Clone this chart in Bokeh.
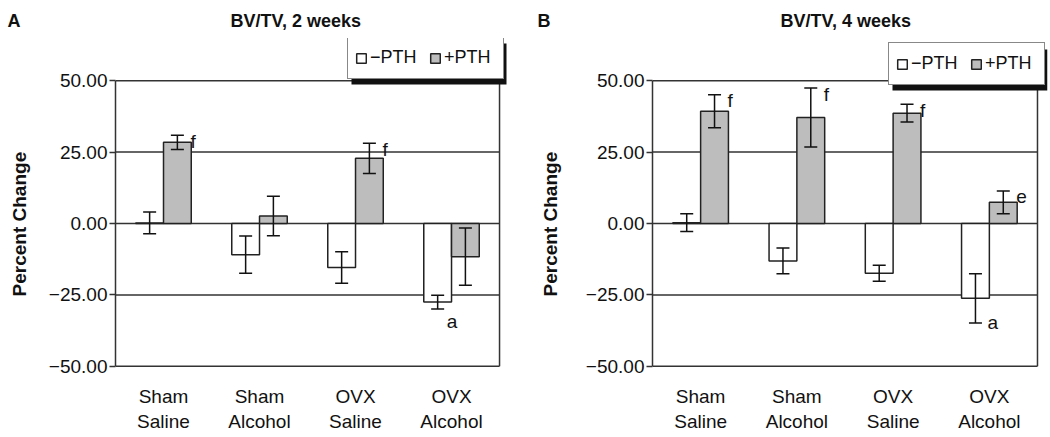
from bokeh.plotting import figure
from bokeh.models import (ColumnDataSource, Whisker, TeeHead, FixedTicker, Legend,
                          LegendItem, Range1d, BoxAnnotation)
from bokeh.layouts import row
from bokeh.embed import file_html
from bokeh.resources import INLINE
from bokeh.core.properties import value

# ---------------- data ----------------
categories = ["Sham\nSaline", "Sham\nAlcohol", "OVX\nSaline", "OVX\nAlcohol"]
series_names = ["\u2212PTH", "+PTH"]
y_ticks = [-50, -25, 0, 25, 50]
y_tick_labels = ["\u221250.00", "\u221225.00", "0.00", "25.00", "50.00"]

titles = ["BV/TV, 2 weeks", "BV/TV, 4 weeks"]
panel_letters = ["A", "B"]
y_label = "Percent Change"

a_minus = [0.2, -10.9, -15.4, -27.5]
a_minus_err = [3.8, 6.5, 5.5, 2.4]
a_plus = [28.4, 2.6, 22.8, -11.6]
a_plus_err = [2.5, 6.9, 5.3, 10.0]

b_minus = [0.3, -13.1, -17.4, -26.2]
b_minus_err = [3.1, 4.5, 2.8, 8.6]
b_plus = [39.3, 37.1, 38.6, 7.4]
b_plus_err = [5.8, 10.3, 3.1, 4.0]

# significance letters: (category index, series index, letter)
a_notes = [(0, 1, "f"), (2, 1, "f"), (3, 0, "a")]
b_notes = [(0, 1, "f"), (1, 1, "f"), (2, 1, "f"), (3, 1, "e"), (3, 0, "a")]

FONT = "Liberation Sans"
DARK = "#222222"
LINE = "#333333"
GRAY = "#bdbdbd"
NBSP = "\u00a0"


def make_panel(title, letter, minus, minus_err, plus, plus_err, notes,
               frame_w, x_end, bl, br, ylabel_standoff, title_offset, title_gap,
               leg_x, leg_y, a_dx, a_dy):
    n = len(categories)
    centers = [i + 0.5 for i in range(n)]
    bw = 0.289
    xm = [c - bw / 2 for c in centers]
    xp = [c + bw / 2 for c in centers]
    y_lo, y_hi = y_ticks[0], y_ticks[-1]

    # the frame reaches above/right of the value box to hold the legend box
    p = figure(x_range=Range1d(0, x_end), y_range=Range1d(-50.4, 64.75),
               frame_width=frame_w, frame_height=329,
               min_border_left=bl, min_border_right=br,
               min_border_top=38, min_border_bottom=70,
               output_backend="svg", toolbar_location=None,
               background_fill_color="white", border_fill_color="white",
               outline_line_color=None)

    # title row: panel letter + chart title
    p.title.text = letter + NBSP * title_gap + title
    p.title.text_font = FONT
    p.title.text_font_style = "bold"
    p.title.text_font_size = "18px"
    p.title.text_color = "#111111"
    p.title.align = "left"
    p.title.offset = title_offset
    p.title.standoff = 14
    p.title.vertical_align = "middle"

    p.xgrid.visible = False
    p.ygrid.visible = False
    # horizontal rules at every tick (incl. top/bottom of the box) and right edge
    p.segment(x0=[0] * len(y_ticks), x1=[n] * len(y_ticks), y0=y_ticks, y1=y_ticks,
              line_color=LINE, line_width=1.5)
    p.segment(x0=[n], x1=[n], y0=[y_lo], y1=[y_hi], line_color=LINE, line_width=1.5)

    src_m = ColumnDataSource(dict(x=xm, top=minus,
                                  upper=[v + e for v, e in zip(minus, minus_err)],
                                  lower=[v - e for v, e in zip(minus, minus_err)]))
    src_p = ColumnDataSource(dict(x=xp, top=plus,
                                  upper=[v + e for v, e in zip(plus, plus_err)],
                                  lower=[v - e for v, e in zip(plus, plus_err)]))

    rm = p.vbar(x="x", top="top", bottom=0, width=bw, source=src_m,
                fill_color="white", line_color=DARK, line_width=1.5)
    rp = p.vbar(x="x", top="top", bottom=0, width=bw, source=src_p,
                fill_color=GRAY, line_color=DARK, line_width=1.5)

    for src in (src_m, src_p):
        w = Whisker(base="x", upper="upper", lower="lower", source=src,
                    line_color="#111111", line_width=1.5, level="annotation",
                    upper_head=TeeHead(size=13, line_color="#111111", line_width=1.5),
                    lower_head=TeeHead(size=13, line_color="#111111", line_width=1.5))
        p.add_layout(w)

    srcs = [src_m, src_p]
    up_x, up_y, up_t = [], [], []
    lo_x, lo_y, lo_t = [], [], []
    for ci, si, t in notes:
        d = srcs[si].data
        if si == 1:
            up_x.append(d["x"][ci]); up_y.append(d["upper"][ci]); up_t.append(t)
        else:
            lo_x.append(d["x"][ci]); lo_y.append(d["lower"][ci]); lo_t.append(t)
    p.text(x=up_x, y=up_y, text=up_t, x_offset=13, y_offset=6,
           text_font=value(FONT), text_font_size="19px", text_color="#111111",
           text_baseline="alphabetic", text_align="left")
    p.text(x=lo_x, y=lo_y, text=lo_t, x_offset=a_dx, y_offset=a_dy,
           text_font=value(FONT), text_font_size="19px", text_color="#111111",
           text_baseline="alphabetic", text_align="left")

    p.yaxis.bounds = (y_lo, y_hi)
    p.yaxis.ticker = FixedTicker(ticks=y_ticks)
    p.yaxis.major_label_overrides = dict(zip(y_ticks, y_tick_labels))
    # trailing no-break spaces centre the visible words on the value box
    p.yaxis.axis_label = y_label + NBSP * 8
    p.yaxis.axis_label_text_font = FONT
    p.yaxis.axis_label_text_font_style = "bold"
    p.yaxis.axis_label_text_font_size = "19px"
    p.yaxis.axis_label_text_color = "#111111"
    p.yaxis.axis_label_standoff = ylabel_standoff
    p.yaxis.major_label_text_font = FONT
    p.yaxis.major_label_text_font_size = "19px"
    p.yaxis.major_label_text_color = "#111111"
    p.yaxis.major_label_standoff = 2
    p.yaxis.axis_line_color = LINE
    p.yaxis.axis_line_width = 1.5
    p.yaxis.major_tick_in = 0
    p.yaxis.major_tick_out = 6
    p.yaxis.major_tick_line_width = 1.5
    p.yaxis.major_tick_line_color = LINE
    p.yaxis.minor_tick_line_color = None

    p.xaxis.ticker = FixedTicker(ticks=centers)
    p.xaxis.major_label_overrides = dict(zip(centers, categories))
    p.xaxis.major_label_text_font = FONT
    p.xaxis.major_label_text_font_size = "19px"
    p.xaxis.major_label_text_color = "#111111"
    p.xaxis.major_label_standoff = 12
    p.xaxis.axis_line_color = None
    p.xaxis.major_tick_line_color = None
    p.xaxis.minor_tick_line_color = None

    # legend with drop shadow
    lw, lh = 155, 41
    shadow = BoxAnnotation(left=leg_x + 4, right=leg_x + lw + 4,
                           bottom=leg_y - 5, top=leg_y + lh - 5,
                           left_units="screen", right_units="screen",
                           bottom_units="screen", top_units="screen",
                           fill_color="#111111", fill_alpha=1.0, line_color=None,
                           level="annotation")
    p.add_layout(shadow)
    legend = Legend(items=[LegendItem(label=series_names[0], renderers=[rm]),
                           LegendItem(label=series_names[1], renderers=[rp])],
                    orientation="horizontal", location=(leg_x, leg_y),
                    glyph_width=12, glyph_height=12, label_standoff=3,
                    spacing=7, padding=7, margin=0, label_width=52, label_height=27,
                    label_text_font=FONT, label_text_font_size="18px",
                    label_text_color="#111111",
                    border_line_color="#111111", border_line_width=1.5,
                    background_fill_color="white", background_fill_alpha=1.0,
                    level="overlay")
    p.add_layout(legend)
    return p


pa = make_panel(titles[0], panel_letters[0], a_minus, a_minus_err, a_plus, a_plus_err,
                a_notes, frame_w=392, x_end=4.083, bl=115, br=18, ylabel_standoff=16,
                title_offset=-108, title_gap=42,
                leg_x=232, leg_y=288, a_dx=9, a_dy=13)
pb = make_panel(titles[1], panel_letters[1], b_minus, b_minus_err, b_plus, b_plus_err,
                b_notes, frame_w=395, x_end=4.104, bl=127, br=3, ylabel_standoff=22,
                title_offset=-115, title_gap=46,
                leg_x=236, leg_y=282, a_dx=12, a_dy=0)

layout = row(pa, pb)
open("out.html", "w").write(file_html(layout, INLINE))
